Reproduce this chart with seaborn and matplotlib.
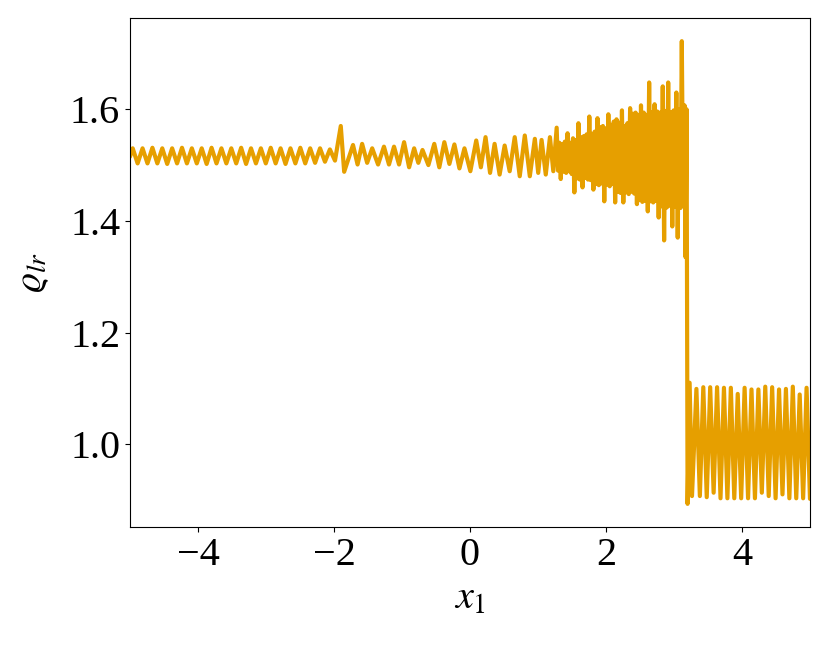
import numpy as np
import pandas as pd
import matplotlib
matplotlib.use('Agg')
import matplotlib.pyplot as plt
import seaborn as sns

# density samples, grouped by region of the domain
# left: smooth wave ahead of the perturbation
x_left = np.concatenate([[-5.0], np.linspace(-4.96, -2.06, 41)])
rho_left = [1.515,
            1.530, 1.503, 1.530, 1.503, 1.531, 1.503, 1.530, 1.502, 1.530, 1.503,
            1.531, 1.503, 1.530, 1.503, 1.530, 1.502, 1.531, 1.503, 1.530, 1.503,
            1.530, 1.503, 1.531, 1.502, 1.530, 1.503, 1.530, 1.503, 1.531, 1.503,
            1.530, 1.502, 1.530, 1.503, 1.531, 1.503, 1.530, 1.504, 1.530, 1.506,
            1.528]

# small spike near x1 = -1.9
x_spike = [-1.985, -1.90, -1.85]
rho_spike = [1.508, 1.570, 1.488]

# middle: wave with slowly growing amplitude
x_mid_pk = np.array([-1.72, -1.586, -1.438, -1.265, -1.117, -0.969, -0.821, -0.698,
                     -0.525, -0.377, -0.229, -0.081, 0.092, 0.229, 0.362, 0.510,
                     0.658, 0.806, 0.954, 1.053, 1.176, 1.275])
rho_mid_pk = [1.536, 1.538, 1.530, 1.533, 1.533, 1.541, 1.530, 1.527, 1.538, 1.541,
              1.537, 1.530, 1.544, 1.550, 1.538, 1.535, 1.550, 1.553, 1.547, 1.545,
              1.550, 1.567]
rho_mid_tr = [1.501, 1.504, 1.501, 1.501, 1.501, 1.496, 1.504, 1.500, 1.496, 1.502,
              1.494, 1.489, 1.496, 1.486, 1.483, 1.489, 1.480, 1.480, 1.486, 1.483,
              1.489]

# dense grid-scale oscillation in front of the shock
x_dense_lo = np.linspace(1.295, 3.135, 47)
x_dense_hi = x_dense_lo + 0.02
rho_dense_hi = [1.540, 1.537, 1.542, 1.557, 1.540, 1.548, 1.545, 1.575, 1.550, 1.552,
                1.555, 1.587, 1.556, 1.560, 1.584, 1.568, 1.570, 1.566, 1.591, 1.572,
                1.578, 1.582, 1.576, 1.598, 1.570, 1.575, 1.602, 1.592, 1.594, 1.590,
                1.607, 1.594, 1.590, 1.648, 1.595, 1.609, 1.596, 1.594, 1.641, 1.597,
                1.648, 1.595, 1.598, 1.630, 1.600, 1.722, 1.607]
rho_dense_lo = [1.490, 1.475, 1.488, 1.486, 1.489, 1.484, 1.451, 1.476, 1.474, 1.460,
                1.477, 1.474, 1.473, 1.456, 1.466, 1.464, 1.467, 1.435, 1.465, 1.462,
                1.466, 1.433, 1.452, 1.450, 1.433, 1.451, 1.448, 1.452, 1.449, 1.430,
                1.437, 1.434, 1.436, 1.417, 1.435, 1.433, 1.436, 1.406, 1.426, 1.365,
                1.424, 1.427, 1.390, 1.425, 1.370, 1.423, 1.426]

# shock
x_shock = [3.17, 3.185, 3.20, 3.23, 3.265]
rho_shock = [1.335, 1.600, 0.893, 1.110, 0.907]

# right: post-shock oscillation
x_right_pk = np.linspace(3.33, 4.95, 17)
rho_right_pk = [1.099, 1.102, 1.102, 1.102, 1.101, 1.101, 1.090, 1.101, 1.098, 1.098,
                1.103, 1.102, 1.098, 1.099, 1.103, 1.089, 1.101]
rho_right_tr = [0.907, 0.905, 0.913, 0.903, 0.903, 0.903, 0.903, 0.903, 0.903, 0.913,
                0.907, 0.903, 0.910, 0.903, 0.903, 0.903]
x_end = [5.0]
rho_end = [0.902]


def interleave(x_pk, y_pk, y_tr):
    """peaks with troughs half way between them"""
    x_pk = np.asarray(x_pk)
    x_tr = (x_pk[:-1] + x_pk[1:]) / 2
    xs = np.empty(len(x_pk) + len(x_tr))
    ys = np.empty_like(xs)
    xs[0::2], xs[1::2] = x_pk, x_tr
    ys[0::2], ys[1::2] = y_pk, y_tr
    return xs, ys


x_mid, rho_mid = interleave(x_mid_pk, rho_mid_pk, rho_mid_tr)
x_right, rho_right = interleave(x_right_pk, rho_right_pk, rho_right_tr)
x_dense = np.column_stack([x_dense_lo, x_dense_hi]).ravel()
rho_dense = np.column_stack([rho_dense_lo, rho_dense_hi]).ravel()

df = pd.DataFrame({
    'x1': np.concatenate([x_left, x_spike, x_mid, x_dense, x_shock, x_right, x_end]),
    'rho': np.concatenate([rho_left, rho_spike, rho_mid, rho_dense, rho_shock, rho_right, rho_end]),
})

sns.set_style('ticks')
plt.rcParams['font.family'] = ['Liberation Serif', 'DejaVu Serif']
plt.rcParams['mathtext.fontset'] = 'stix'
plt.rcParams['text.color'] = 'black'
plt.rcParams['axes.labelcolor'] = 'black'
plt.rcParams['xtick.color'] = 'black'
plt.rcParams['ytick.color'] = 'black'

fig, ax = plt.subplots(figsize=(8.31, 6.46), dpi=100)
fig.subplots_adjust(left=0.1564, right=0.9747, bottom=0.1842, top=0.9721)

sns.lineplot(data=df, x='x1', y='rho', color='#E69F00', lw=3.0,
             estimator=None, sort=False, ax=ax)

ax.set_xlim(-5, 5)
ax.set_xticks([-4, -2, 0, 2, 4])
ax.set_yticks([1.0, 1.2, 1.4, 1.6])
ax.tick_params(labelsize=29)
for s in ax.spines.values():
    s.set_color('black')
ax.set_xlabel(r'$x_1$', fontsize=29, labelpad=5)
ax.set_ylabel(r'$\varrho_{lr}$', fontsize=28, labelpad=14)

fig.savefig('out.png', dpi=100)
